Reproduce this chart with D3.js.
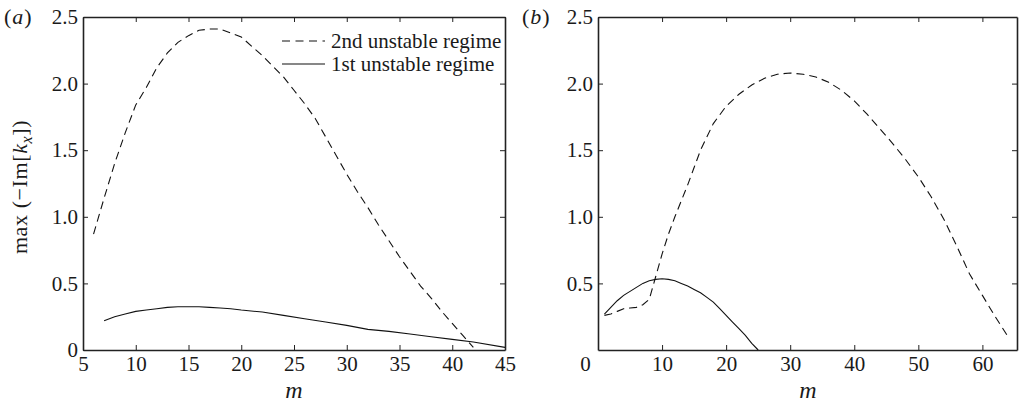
<!DOCTYPE html>
<html><head><meta charset="utf-8">
<script src="https://cdn.jsdelivr.net/npm/d3@7"></script>
</head>
<body style="margin:0;background:#fff">
<svg id="c" width="1019" height="404"></svg>
<script>
// Panel (a) data
const aDashM = [6,7,8,9,10,11,12,13,14,15,16,17,18,19,20,21,22,23,24,25,26,27,28,29,30,31,32,33,34,35,36,37,38,39,40,41,42];
const aDashV = [0.87,1.14,1.40,1.63,1.84,1.97,2.12,2.23,2.31,2.36,2.40,2.41,2.41,2.38,2.35,2.28,2.21,2.13,2.05,1.95,1.85,1.74,1.60,1.46,1.32,1.19,1.07,0.94,0.82,0.70,0.59,0.48,0.39,0.29,0.20,0.11,0.02];
const aSolidM = [7,8,9,10,11,12,13,14,15,16,17,18,19,20,22,24,26,28,30,32,34,36,38,40,42,45];
const aSolidV = [0.22,0.25,0.27,0.29,0.30,0.31,0.32,0.325,0.325,0.325,0.32,0.315,0.31,0.30,0.285,0.26,0.235,0.21,0.185,0.155,0.14,0.12,0.10,0.08,0.06,0.02];
// Panel (b) data
const bDashM = [1,2,3,4,5,6,7,8,9,10,11,12,13,14,15,16,18,20,22,24,26,28,30,32,34,36,38,40,42,44,46,48,50,52,54,56,58,60,62,64];
const bDashV = [0.26,0.27,0.29,0.31,0.315,0.32,0.34,0.38,0.55,0.72,0.87,1.00,1.12,1.24,1.37,1.50,1.70,1.83,1.92,1.99,2.04,2.07,2.08,2.07,2.05,2.01,1.95,1.87,1.77,1.66,1.55,1.43,1.30,1.15,0.98,0.78,0.57,0.41,0.25,0.10];
const bSolidM = [1,2,3,4,5,6,7,8,9,10,11,12,13,14,15,16,17,18,19,20,21,22,23,24,25];
const bSolidV = [0.27,0.32,0.37,0.41,0.44,0.47,0.50,0.52,0.53,0.535,0.53,0.52,0.50,0.48,0.455,0.43,0.395,0.36,0.31,0.26,0.21,0.16,0.11,0.05,0.0];
// Ticks
const aXTicks = [5,10,15,20,25,30,35,40,45];
const aYTicks = [0,0.5,1.0,1.5,2.0,2.5];
const bXTicks = [0,10,20,30,40,50,60];
const bYTicks = [0.5,1.0,1.5,2.0,2.5];
const legendLabels = ["2nd unstable regime","1st unstable regime"];

const FONT = '"Liberation Serif"';
const svg = d3.select("#c");
const FS = 21;
const plotTop = 17, plotBottom = 350;

function txt(sel){ return sel.style("font-family", FONT).attr("fill","#1a1a1a"); }

function panel(opts){
  const g = svg.append("g");
  const x = d3.scaleLinear().domain(opts.xd).range([opts.x0, opts.x1]);
  const y = d3.scaleLinear().domain([0,2.5]).range([plotBottom, plotTop]);
  const fmtY = d => d===0 ? "0" : d3.format(".1f")(d);
  const styleAxis = sel => {
    sel.attr("font-family", null).attr("font-size", null);
    sel.selectAll(".domain").attr("stroke","#222").attr("stroke-width",1.6);
    sel.selectAll(".tick line").attr("stroke","#222").attr("stroke-width",1);
    sel.selectAll("text").style("font-size",FS+"px").style("font-family",FONT).attr("fill","#1a1a1a");
  };
  g.append("g").attr("transform",`translate(0,${plotBottom})`)
    .call(d3.axisBottom(x).tickValues(opts.xt).tickSizeInner(-5).tickSizeOuter(0).tickPadding(6).tickFormat(d3.format("d")))
    .call(styleAxis)
    .call(s => { if(opts.zeroShift) s.selectAll(".tick").filter(d=>d===0).select("text").attr("dx",opts.zeroShift); });
  g.append("g").attr("transform",`translate(0,${plotTop})`)
    .call(d3.axisTop(x).tickValues(opts.xt).tickSizeInner(-5).tickSizeOuter(0).tickFormat(""))
    .call(styleAxis);
  g.append("g").attr("transform",`translate(${opts.x0},0)`)
    .call(d3.axisLeft(y).tickValues(opts.yt).tickSizeInner(-5).tickSizeOuter(0).tickPadding(5).tickFormat(fmtY))
    .call(styleAxis);
  g.append("g").attr("transform",`translate(${opts.x1},0)`)
    .call(d3.axisRight(y).tickValues(opts.yt).tickSizeInner(-5).tickSizeOuter(0).tickFormat(""))
    .call(styleAxis);

  const line = d3.line().x(d=>x(d[0])).y(d=>y(d[1]));
  g.append("path").datum(d3.zip(opts.dm, opts.dv)).attr("d",line)
    .attr("fill","none").attr("stroke","#111").attr("stroke-width",1.1).attr("stroke-dasharray","8,5");
  g.append("path").datum(d3.zip(opts.sm, opts.sv)).attr("d",line)
    .attr("fill","none").attr("stroke","#111").attr("stroke-width",1.1);

  txt(g.append("text")).attr("x",opts.mx).attr("y",398)
    .attr("text-anchor","middle").style("font-size","24px").style("font-style","italic").text("m");
  const pl = txt(g.append("text")).attr("x",opts.plx).attr("y",24).style("font-size","22px").style("letter-spacing","1px");
  pl.append("tspan").text("(");
  pl.append("tspan").style("font-style","italic").text(opts.letter);
  pl.append("tspan").text(")");
  return {g,x,y};
}

const A = panel({xd:[5,45], x0:83, x1:505, xt:aXTicks, yt:aYTicks, dm:aDashM, dv:aDashV, sm:aSolidM, sv:aSolidV, mx:294, plx:4, letter:"a"});
const B = panel({xd:[0,65.4], x0:598, x1:1017, xt:bXTicks, yt:bYTicks, dm:bDashM, dv:bDashV, sm:bSolidM, sv:bSolidV, mx:808, plx:522, letter:"b", zeroShift:-13});

const lg = A.g.append("g");
lg.append("line").attr("x1",282).attr("x2",325).attr("y1",41).attr("y2",41)
  .attr("stroke","#111").attr("stroke-width",1.1).attr("stroke-dasharray","8,5.5");
lg.append("line").attr("x1",282).attr("x2",325).attr("y1",64).attr("y2",64)
  .attr("stroke","#111").attr("stroke-width",1.1);
txt(lg.append("text")).attr("x",331).attr("y",48).style("font-size","21px").text(legendLabels[0]);
txt(lg.append("text")).attr("x",331).attr("y",71).style("font-size","21px").text(legendLabels[1]);

const yl = txt(svg.append("text")).attr("transform","translate(27,187) rotate(-90)")
  .attr("text-anchor","middle").style("font-size","22px").style("letter-spacing","0.6px");
yl.append("tspan").text("max (\u2212Im[");
yl.append("tspan").style("font-style","italic").text("k");
yl.append("tspan").style("font-style","italic").style("font-size","16px").attr("dy",5).text("x");
yl.append("tspan").attr("dy",-5).text("])");
</script></body></html>
